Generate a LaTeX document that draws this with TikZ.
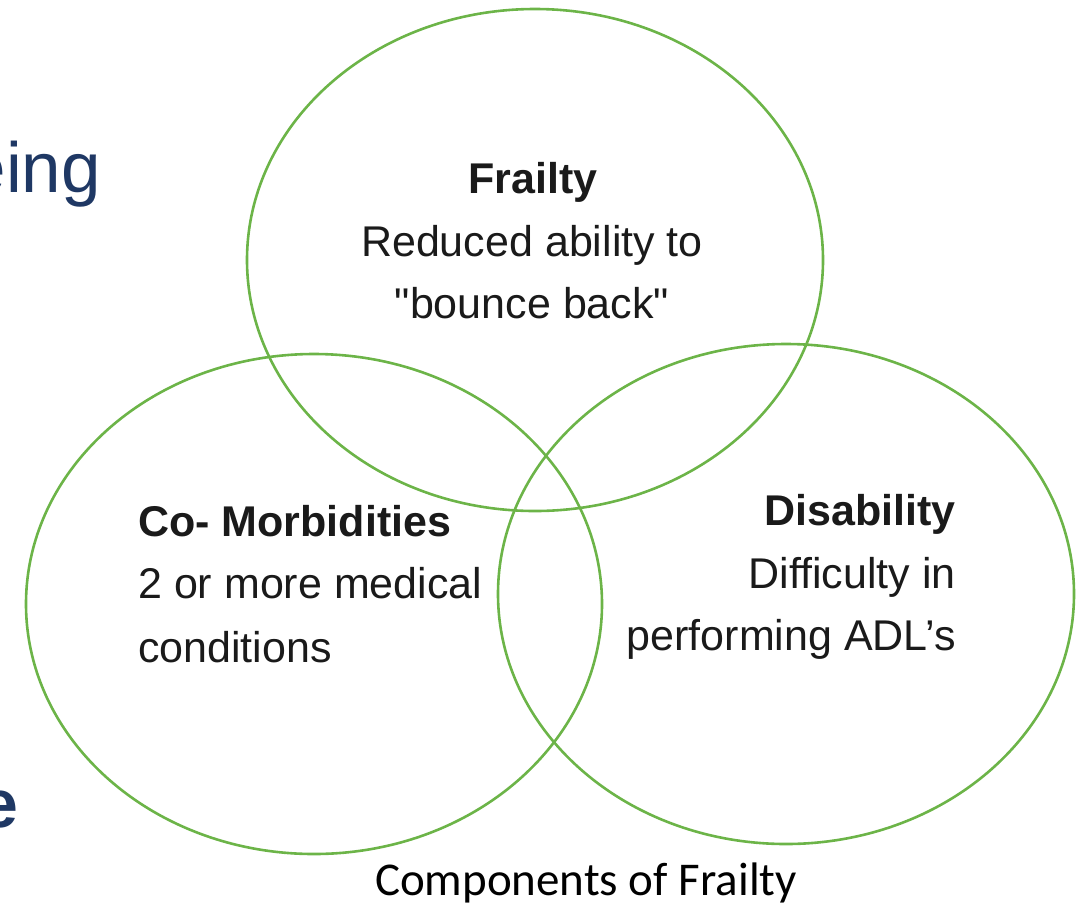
\documentclass[tikz,border=0pt]{standalone}
\usepackage{fontspec}
\setmainfont{Liberation Sans}[Ligatures=TeXOff]
\newfontfamily\capfont{Carlito}
\definecolor{ringgreen}{RGB}{108,180,72}
\definecolor{titleblue}{RGB}{31,56,100}
\definecolor{textgray}{RGB}{26,26,26}
\tikzset{
  ring/.style={draw=ringgreen, line width=2.6pt},
  lbl/.style={inner sep=0pt, text=textgray, font=\fontsize{43}{50}\selectfont},
  lblbold/.style={inner sep=0pt, text=textgray, font=\fontsize{43}{50}\selectfont\bfseries},
  captxt/.style={inner sep=0pt, text=black, font=\capfont\fontsize{47}{55}\selectfont},
  sidetxt/.style={inner sep=0pt, text=titleblue}
}
\begin{document}
\begin{tikzpicture}[x=1pt,y=-1pt]
\useasboundingbox (0,0) rectangle (1089,906);
\begin{scope}
\clip (0,0) rectangle (1089,906);
% partial slide text at left
\node[sidetxt, anchor=base east, font=\fontsize{71}{80}\selectfont] (sideA) at (101,192) {eing};
\node[sidetxt, anchor=base east, font=\fontsize{68}{80}\selectfont\bfseries] (sideB) at (19,827) {e};
% circles
\draw[ring] (535,260) ellipse [x radius=288pt, y radius=251pt];
\draw[ring] (314,604) ellipse [x radius=288pt, y radius=250pt];
\draw[ring] (786,594) ellipse [x radius=288pt, y radius=250pt];
\end{scope}
% Frailty
\node[lblbold, anchor=base] (fT) at (533,193) {Frailty};
\node[lbl, anchor=base] (f1) at (532,256) {Reduced ability to};
\node[lbl, anchor=base] (f2) at (532,318) {"bounce back"};
% Co-Morbidities
\node[lblbold, anchor=base west] (cT) at (138,536) {Co- Morbidities};
\node[lbl, anchor=base west] (c1) at (138,598) {2 or more medical};
\node[lbl, anchor=base west] (c2) at (138,662) {conditions};
% Disability
\node[lblbold, anchor=base east] (dT) at (956,525) {Disability};
\node[lbl, anchor=base east] (d1) at (956,588) {Difficulty in};
\node[lbl, anchor=base east] (d2) at (956,650) {performing ADL’s};
% caption
\node[captxt, anchor=base] (cap) at (586,895) {Components of Frailty};
\end{tikzpicture}
\end{document}
